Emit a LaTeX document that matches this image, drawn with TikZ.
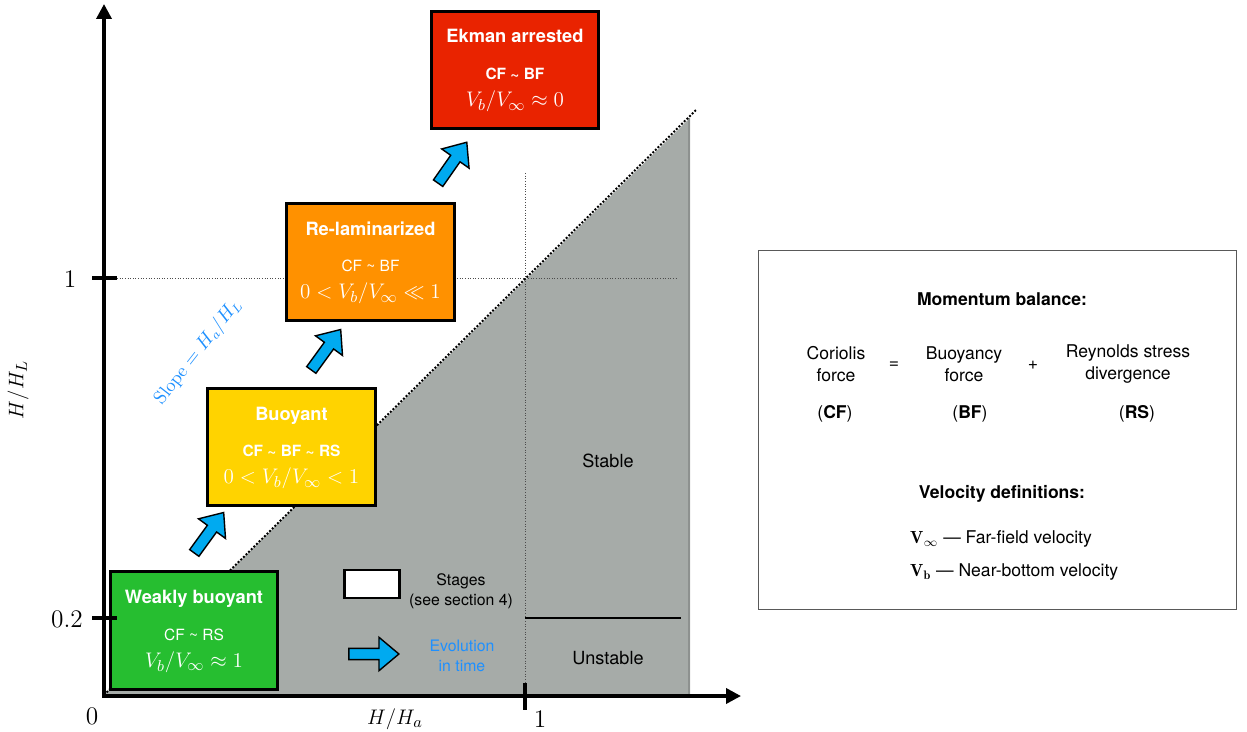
\documentclass[tikz,border=0pt]{standalone}
\usepackage{fontspec}
\setsansfont{TeX Gyre Heros}
\usetikzlibrary{arrows.meta,shapes.arrows}
\definecolor{stagered}{RGB}{233,35,0}
\definecolor{stageorange}{RGB}{255,145,0}
\definecolor{stageyellow}{RGB}{255,211,0}
\definecolor{stagegreen}{RGB}{38,190,48}
\definecolor{regiongray}{RGB}{166,171,168}
\definecolor{arrowblue}{RGB}{0,170,240}
\definecolor{textblue}{RGB}{30,144,255}

\begin{document}
\begin{tikzpicture}[x=0.02cm, y=-0.02cm,
  stagebox/.style={draw=black, line width=1.6pt, minimum width=3.35cm, minimum height=2.35cm, inner sep=0pt},
  stagetitle/.style={anchor=base, text=white, font=\sffamily\bfseries\fontsize{10.4}{12}\selectfont},
  balance/.style={anchor=base, text=white, font=\sffamily\bfseries\fontsize{8.8}{10}\selectfont},
  balancelight/.style={anchor=base, text=white, font=\sffamily\fontsize{8.8}{10}\selectfont},
  ratio/.style={anchor=base, text=white, font=\fontsize{12.5}{14}\selectfont},
  evolarrow/.style={single arrow, draw=black, line width=0.8pt, fill=arrowblue, minimum height=1cm,
    minimum width=0pt, inner sep=0.1cm, single arrow head extend=0.22cm, single arrow tip angle=80},
  axis/.style={line width=2pt, -{Triangle[length=0.3cm,width=0.3cm]}},
  numlabel/.style={font=\fontsize{14.5}{16}\selectfont},
  sidetext/.style={font=\sffamily\fontsize{10}{12.5}\selectfont, align=center},
  sidehead/.style={font=\sffamily\bfseries\fontsize{10}{12}\selectfont, anchor=base},
  legendtext/.style={font=\sffamily\fontsize{9}{11.3}\selectfont, align=center}
]
  \useasboundingbox (0,0) rectangle (1247,732);

  % Stable region
  \fill[regiongray] (104,695) -- (690,118) -- (690,695) -- cycle;
  \draw[regiongray!85!black, line width=1pt] (689,118) -- (689,695);

  % Guide lines through (1,1)
  \draw[densely dotted, gray!60!black, line width=0.5pt] (525,173) -- (525,695);
  \draw[densely dotted, gray!60!black, line width=0.5pt] (117,278) -- (678,278);

  % Slope line
  \draw[densely dotted, line width=1.1pt] (104,695) -- (697,109);
  \node[rotate=52, text=textblue, font=\fontsize{10.5}{12}\selectfont, inner sep=1pt] (slopelab) at (198,352) {$\mathrm{Slope} = H_a/H_L$};

  % Stable / unstable split
  \draw[line width=1pt] (525,618) -- (681,618);
  \node[font=\sffamily\fontsize{10.3}{12}\selectfont] (stablelab) at (608,461) {Stable};
  \node[font=\sffamily\fontsize{10.3}{12}\selectfont] (unstablelab) at (608,658) {Unstable};

  % Stages
  \node[stagebox, fill=stagegreen] (weak) at (194,630.5) {};
  \node[stagetitle] (weaktitle) at ([yshift=0.54cm]weak.center) {Weakly buoyant};
  \node[balancelight] (weakbal) at ([yshift=-0.2cm]weak.center) {CF \textasciitilde{} RS};
  \node[ratio] (weakratio) at ([yshift=-0.74cm]weak.center) {$V_b/V_\infty \approx 1$};

  \node[stagebox, fill=stageyellow] (buoy) at (291.5,447) {};
  \node[stagetitle] (buoytitle) at ([yshift=0.54cm]buoy.center) {Buoyant};
  \node[balance] (buoybal) at ([yshift=-0.2cm]buoy.center) {CF \textasciitilde{} BF \textasciitilde{} RS};
  \node[ratio] (buoyratio) at ([yshift=-0.74cm]buoy.center) {$0 < V_b/V_\infty < 1$};

  \node[stagebox, fill=stageorange] (relam) at (370.5,262) {};
  \node[stagetitle] (relamtitle) at ([yshift=0.54cm]relam.center) {Re-laminarized};
  \node[balancelight] (relambal) at ([yshift=-0.2cm]relam.center) {CF \textasciitilde{} BF};
  \node[ratio] (relamratio) at ([yshift=-0.74cm]relam.center) {$0 < V_b/V_\infty \ll 1$};

  \node[stagebox, fill=stagered] (ekman) at (515,70) {};
  \node[stagetitle] (ekmantitle) at ([yshift=0.54cm]ekman.center) {Ekman arrested};
  \node[balance] (ekmanbal) at ([yshift=-0.2cm]ekman.center) {CF \textasciitilde{} BF};
  \node[ratio] (ekmanratio) at ([yshift=-0.74cm]ekman.center) {$V_b/V_\infty \approx 0$};

  % Evolution arrows
  \node[evolarrow, rotate=54] (evol1) at (207,535.5) {};
  \node[evolarrow, rotate=54] (evol2) at (324,352.5) {};
  \node[evolarrow, rotate=55] (evol3) at (450.5,165.5) {};

  % Legend
  \node[draw=black, fill=white, line width=1.4pt, minimum width=1.1cm, minimum height=0.55cm] (legbox) at (372,584) {};
  \node[legendtext] (legboxlab) at (461,591) {Stages\\(see section 4)};
  \node[evolarrow] (legarrow) at (370.5,654) {};
  \node[legendtext, text=textblue] (legarrowlab) at (462,656) {Evolution\\in time};

  % Axes
  \draw[axis] (104,696) -- (104,4);
  \draw[axis] (102,696) -- (741,696);
  \draw[line width=2pt] (92,278) -- (117,278);
  \draw[line width=2pt] (92,618) -- (117,618);
  \draw[line width=2pt] (525,683) -- (525,710);
  \node[numlabel] (ytick1) at (70,279) {$1$};
  \node[numlabel, anchor=east] (ytick02) at (89,619) {$0.2$};
  \node[numlabel] (orig) at (92,716) {$0$};
  \node[numlabel] (xtick1) at (540,719) {$1$};
  \node[font=\fontsize{12.5}{14}\selectfont] (xaxislab) at (395,719) {$H/H_a$};
  \node[rotate=90, font=\fontsize{12.5}{14}\selectfont] (yaxislab) at (18,390) {$H/H_L$};

  % Definitions panel
  \node[draw=gray!70!black, line width=0.6pt, minimum width=9.58cm, minimum height=7.2cm] (panel) at (997.5,430) {};
  \node[sidehead] (momhead) at (1002,306) {Momentum balance:};
  \node[sidetext] (cf) at (836,364) {Coriolis\\force};
  \node[sidetext] (eqsign) at (894,365) {=};
  \node[sidetext] (bf) at (964,364) {Buoyancy\\force};
  \node[sidetext] (plussign) at (1033,365) {+};
  \node[sidetext] (rs) at (1128,364) {Reynolds stress\\divergence};
  \node[sidetext] (cfabbr) at (835,414) {(\textbf{CF})};
  \node[sidetext] (bfabbr) at (970,414) {(\textbf{BF})};
  \node[sidetext] (rsabbr) at (1137,414) {(\textbf{RS})};
  \node[sidehead] (velhead) at (1002,499) {Velocity definitions:};
  \node[sidetext, anchor=base west] (vinf) at (904,544) {$\mathbf{V}_\infty$ --- Far-field velocity};
  \node[sidetext, anchor=base west] (vb) at (904,577) {$\mathbf{V}_\mathbf{b}$ --- Near-bottom velocity};
\end{tikzpicture}
\end{document}
